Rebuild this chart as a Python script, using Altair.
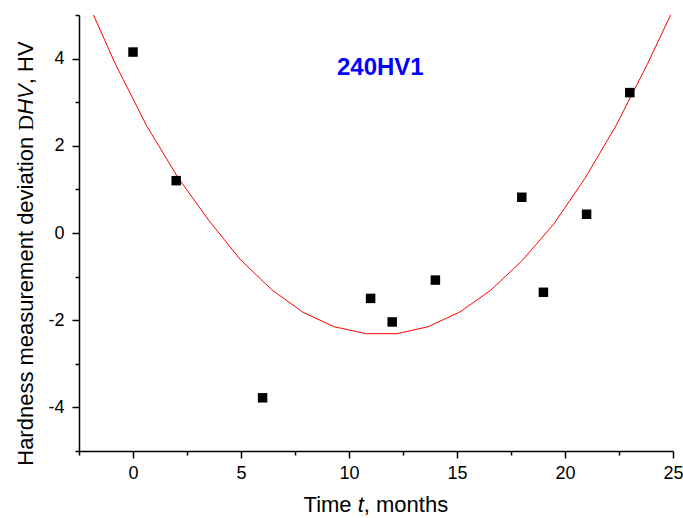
import altair as alt
import pandas as pd

# Measured hardness deviations
months = [0, 2, 6, 11, 12, 14, 18, 19, 21, 23]
deviation = [4.15, 1.20, -3.78, -1.50, -2.04, -1.08, 0.82, -1.36, 0.43, 3.22]

# Fitted trend curve (polyline vertices)
fit_t = [-2.28, -0.83, 0.62, 2.07, 3.52, 4.97, 6.42, 7.87, 9.31, 10.79,
         12.22, 13.66, 15.14, 16.57, 18.02, 19.47, 20.92, 22.37, 23.82, 25.27]
fit_dev = [5.50, 3.89, 2.47, 1.28, 0.28, -0.61, -1.30, -1.82, -2.15, -2.31,
           -2.31, -2.15, -1.81, -1.31, -0.63, 0.20, 1.25, 2.47, 3.88, 5.40]

# Tick positions (major + minor)
x_ticks = [-2.5, 0, 2.5, 5, 7.5, 10, 12.5, 15, 17.5, 20, 22.5, 25]
y_ticks = [-5, -4, -3, -2, -1, 0, 1, 2, 3, 4, 5]

label_text = ["240HV1"]
label_t = [11.45]
label_dev = [3.79]

# Axis titles, split where the font style changes
x_title_parts = ["Time", "t", ", months"]
y_title_parts = ["Hardness measurement deviation", "D", "HV", ", HV"]

FONT = "Liberation Sans"
SERIF = "Liberation Serif"

points = pd.DataFrame({"t": months, "dev": deviation})
fit = pd.DataFrame({"t": fit_t, "dev": fit_dev})
label = pd.DataFrame({"t": label_t, "dev": label_dev, "text": label_text})

x_scale = alt.Scale(domain=[-2.5, 25], nice=False, zero=False)
y_scale = alt.Scale(domain=[-5, 5], nice=False, zero=False)

x_axis = alt.Axis(
    values=x_ticks,
    labelExpr="datum.value % 5 === 0 ? toString(datum.value) : ''",
    tickSize={"condition": {"test": "datum.value % 5 !== 0", "value": 4}, "value": 7},
    grid=False,
    domainColor="black", domainWidth=1.5,
    tickColor="black", tickWidth=1.5,
    labelFont=FONT, labelFontSize=18, labelColor="black",
    labelPadding=6, labelFlush=False, labelOverlap=False,
    title="",
)

y_axis = alt.Axis(
    values=y_ticks,
    labelExpr="datum.value % 2 === 0 ? toString(datum.value) : ''",
    tickSize={"condition": {"test": "datum.value % 2 !== 0", "value": 4}, "value": 7},
    grid=False,
    domainColor="black", domainWidth=1.5,
    tickColor="black", tickWidth=1.5,
    labelFont=FONT, labelFontSize=18, labelColor="black",
    labelPadding=8, labelFlush=False, labelOverlap=False,
    title="",
)

curve = alt.Chart(fit).mark_line(color="#ff0000", strokeWidth=1, clip=True).encode(
    x=alt.X("t:Q", scale=x_scale, axis=x_axis),
    y=alt.Y("dev:Q", scale=y_scale, axis=y_axis),
    order="t:Q",
)

dots = alt.Chart(points).mark_point(
    shape="square", filled=True, color="black", size=90, opacity=1
).encode(
    x=alt.X("t:Q", scale=x_scale),
    y=alt.Y("dev:Q", scale=y_scale),
)

tag = alt.Chart(label).mark_text(
    font=FONT, fontSize=24, fontWeight="bold", color="#0000ff",
    align="center", baseline="middle",
).encode(
    x=alt.X("t:Q", scale=x_scale),
    y=alt.Y("dev:Q", scale=y_scale),
    text="text:N",
)


def title_piece(text, x, y, align, angle=0, font=FONT, style="normal"):
    return alt.Chart(pd.DataFrame({"text": [text]})).mark_text(
        font=font, fontSize=22, fontStyle=style, color="black",
        align=align, baseline="alphabetic", angle=angle,
    ).encode(x=alt.value(x), y=alt.value(y), text="text:N")


# x-axis title: "Time t, months" with italic t, centred under the plot
x_base = 496.7
x_title = [
    title_piece(x_title_parts[0], 272.6, x_base, "right"),
    title_piece(x_title_parts[1], 278.7, x_base, "left", style="italic"),
    title_piece(x_title_parts[2], 284.8, x_base, "left"),
]

# y-axis title, rotated: serif D and italic HV
y_base = -46.5
y_title = [
    title_piece(y_title_parts[0], y_base, 121.8, "right", angle=270),
    title_piece(y_title_parts[1], y_base, 115.7, "left", angle=270, font=SERIF),
    title_piece(y_title_parts[2], y_base, 99.8, "left", angle=270, style="italic"),
    title_piece(y_title_parts[3], y_base, 69.2, "left", angle=270),
]

chart = (
    alt.layer(curve, dots, tag, *x_title, *y_title)
    .properties(
        width=594,
        height=436,
        autosize=alt.AutoSizeParams(type="none"),
        padding={"left": 79, "top": 15, "right": 10, "bottom": 67},
        background="white",
    )
    .configure_view(stroke=None)
)

chart.save("out.html", embed_options={"renderer": "svg", "actions": False})
